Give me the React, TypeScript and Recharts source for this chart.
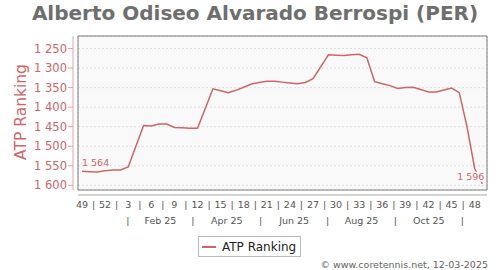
import { LineChart, Line, XAxis, YAxis, CartesianGrid, ReferenceArea, LabelList } from 'recharts'

const FONT = "'DejaVu Sans', sans-serif"
const RED = '#cd6666'
const AXIS_RED = '#e2a5a5'
const GREY_TEXT = '#555555'
const PLOT_BG = '#f9f9f9'

// ISO week of each weekly ranking, from week 49 of 2024 to week 49 of 2025
const weekNumbers = [
  49, 50, 51, 52, 1, 2, 3, 4, 5, 6, 7, 8, 9, 10, 11, 12, 13, 14, 15, 16, 17, 18, 19, 20, 21, 22,
  23, 24, 25, 26, 27, 28, 29, 30, 31, 32, 33, 34, 35, 36, 37, 38, 39, 40, 41, 42, 43, 44, 45, 46,
  47, 48, 49,
]

const atpRanking = [
  1564, 1565, 1566, 1563, 1561, 1561, 1553, 1500, 1447, 1448,
  1443, 1443, 1452, 1453, 1454, 1454, 1404, 1353, 1358, 1363,
  1357, 1349, 1341, 1337, 1334, 1334, 1336, 1338, 1340, 1337,
  1327, 1297, 1266, 1267, 1268, 1266, 1265, 1274, 1335, 1340,
  1345, 1352, 1350, 1349, 1355, 1361, 1361, 1356, 1351, 1363,
  1450, 1557, 1596,
]

const FIRST_DAY = '2024-12-06'
const monthStarts = [
  '2025-01-01', '2025-02-01', '2025-03-01', '2025-04-01', '2025-05-01', '2025-06-01',
  '2025-07-01', '2025-08-01', '2025-09-01', '2025-10-01', '2025-11-01', '2025-12-01',
]

const monthLabels = ['Feb 25', 'Apr 25', 'Jun 25', 'Aug 25', 'Oct 25']
const monthSeparators = [5.97, 14.4, 23.2, 31.9, 40.7, 49.4]

const yTicks = [1250, 1300, 1350, 1400, 1450, 1500, 1550, 1600]
const Y_DOMAIN: [number, number] = [1218, 1612]
const X_DOMAIN: [number, number] = [-0.52, 52.6]

const data = weekNumbers.map((week, i) => ({ i, week, rank: atpRanking[i] }))

const weekOf = (d: string) => (Date.parse(d) - Date.parse(FIRST_DAY)) / (7 * 86400000)
const gridTicks = monthStarts.map(weekOf)

const weekLabelTicks = data.filter(d => d.i % 3 === 0).map(d => d.i)
const weekSepTicks = weekLabelTicks.slice(0, -1).map(i => i + 1.5)
const weekTicks = [...weekLabelTicks, ...weekSepTicks]

const monthLabelPos = monthLabels.map((_, k) => (monthSeparators[k] + monthSeparators[k + 1]) / 2)
const monthTicks = [...monthSeparators, ...monthLabelPos]

const fmtRank = (v: number) => `${Math.floor(v / 1000)}\u00a0${String(v % 1000).padStart(3, '0')}`

function WeekTick(props: any) {
  const { x, y, payload } = props
  const v = payload.value
  const isLabel = Number.isInteger(v)
  return (
    <text x={x} y={y + 12.5} textAnchor="middle" fontSize={9.5} fontFamily={FONT} fill={GREY_TEXT}>
      {isLabel ? weekNumbers[v] : '|'}
    </text>
  )
}

function MonthTick(props: any) {
  const { x, y, payload } = props
  const k = monthLabelPos.indexOf(payload.value)
  return (
    <text x={x} y={y + 12} textAnchor="middle" fontSize={9.5} fontFamily={FONT} fill={GREY_TEXT}>
      {k >= 0 ? monthLabels[k] : '|'}
    </text>
  )
}

function EndLabel(props: any) {
  const { x, y, value, index } = props
  if (index === 0) {
    return (
      <text x={x} y={y - 5} textAnchor="start" fontSize={9.5} fontFamily={FONT} fill={RED}>
        {fmtRank(value)}
      </text>
    )
  }
  if (index === data.length - 1) {
    return (
      <g>
        <rect x={x - 25} y={y - 12} width={28} height={10} fill={PLOT_BG} />
        <text x={x + 2} y={y - 4} textAnchor="end" fontSize={9.5} fontFamily={FONT} fill={RED}>
          {fmtRank(value)}
        </text>
      </g>
    )
  }
  return null
}

export default function App() {
  return (
    <div style={{ position: 'absolute', left: 0, top: 0, width: 500, height: 270, background: '#fff', fontFamily: FONT }}>
      <LineChart width={500} height={270} data={data} margin={{ top: 36, right: 13, bottom: 42, left: 0 }}>
        <CartesianGrid xAxisId="a_grid" stroke="#dcdcdc" strokeDasharray="2 2" fill={PLOT_BG} />
        <XAxis
          xAxisId="a_grid"
          dataKey="i"
          type="number"
          domain={X_DOMAIN}
          allowDataOverflow
          ticks={gridTicks}
          interval={0}
          tick={false}
          height={5}
          tickSize={3}
          axisLine={{ stroke: '#a8a8a8', transform: 'translate(0,5)' }}
          tickLine={{ stroke: '#a8a8a8', transform: 'translate(0,5)' }}
        />
        <XAxis
          xAxisId="b_wk"
          dataKey="i"
          type="number"
          domain={X_DOMAIN}
          allowDataOverflow
          ticks={weekTicks}
          interval={0}
          height={17}
          axisLine={false}
          tickLine={false}
          tickSize={0}
          tickMargin={0}
          tick={(p: any) => <WeekTick {...p} />}
        />
        <XAxis
          xAxisId="c_mo"
          dataKey="i"
          type="number"
          domain={X_DOMAIN}
          allowDataOverflow
          ticks={monthTicks}
          interval={0}
          height={16}
          axisLine={false}
          tickLine={false}
          tickSize={0}
          tickMargin={0}
          tick={(p: any) => <MonthTick {...p} />}
        />
        <YAxis
          domain={Y_DOMAIN}
          reversed
          allowDataOverflow
          ticks={yTicks}
          interval={0}
          width={78}
          tickSize={5}
          tickMargin={6}
          tickFormatter={fmtRank}
          tick={{ fill: RED, fontSize: 11.5, fontFamily: FONT }}
          axisLine={{ stroke: AXIS_RED, transform: 'translate(-5,0)' }}
          tickLine={{ stroke: AXIS_RED, transform: 'translate(-5,0)' }}
        />
        <ReferenceArea
          xAxisId="a_grid"
          x1={X_DOMAIN[0]}
          x2={X_DOMAIN[1]}
          y1={Y_DOMAIN[0]}
          y2={Y_DOMAIN[1]}
          fill="none"
          stroke="#7c7c7c"
          ifOverflow="visible"
        />
        <Line
          xAxisId="a_grid"
          type="linear"
          dataKey="rank"
          stroke={RED}
          strokeWidth={1.5}
          dot={false}
          isAnimationActive={false}
        >
          <LabelList dataKey="rank" content={EndLabel} />
        </Line>
      </LineChart>

      <svg width={500} height={270} style={{ position: 'absolute', left: 0, top: 0, pointerEvents: 'none' }}>
        <text x={255} y={20} textAnchor="middle" fontSize={20} fontWeight="bold" fontFamily={FONT} fill="#6e6e6e">
          Alberto Odiseo Alvarado Berrospi (PER)
        </text>
        <text
          x={0}
          y={0}
          transform="translate(26,112) rotate(-90)"
          textAnchor="middle"
          fontSize={15.5}
          fontFamily={FONT}
          fill={RED}
        >
          ATP Ranking
        </text>
        <text x={488} y={268} textAnchor="end" fontSize={9.5} fontFamily={FONT} fill="#666">
          © www.coretennis.net, 12-03-2025
        </text>
      </svg>

      <div style={{
        position: 'absolute',
        left: 198,
        top: 236,
        width: 101,
        height: 19,
        border: '1px solid #bbb',
        background: '#fff',
        display: 'flex',
        alignItems: 'center',
        boxSizing: 'content-box',
      }}>
        <span style={{ display: 'inline-block', width: 14, height: 0, borderTop: `2px solid ${RED}`, marginLeft: 3, marginRight: 6 }} />
        <span style={{ fontSize: 12, color: '#222', fontFamily: FONT, whiteSpace: 'nowrap' }}>ATP Ranking</span>
      </div>
    </div>
  )
}
